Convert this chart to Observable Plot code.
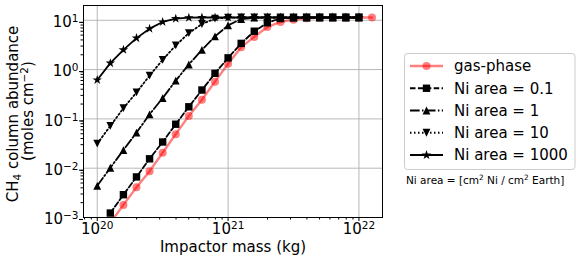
<!DOCTYPE html>
<html><head><meta charset="utf-8">
<script src="https://cdn.jsdelivr.net/npm/d3@7"></script>
<script src="https://cdn.jsdelivr.net/npm/@observablehq/plot@0.6"></script>
<style>body{margin:0;background:#fff;} #chart{width:581px;height:261px;}</style>
</head><body><div id="chart"></div>
<script>
// Impactor masses (kg)
const masses = [1e20, 1.259e20, 1.585e20, 1.995e20, 2.512e20, 3.162e20, 3.981e20, 5.012e20, 6.310e20, 7.943e20,
  1e21, 1.259e21, 1.585e21, 1.995e21, 2.512e21, 3.162e21, 3.981e21, 5.012e21, 6.310e21, 7.943e21, 1e22, 1.259e22];
// CH4 column abundance (moles cm^-2)
const gasPhase = [null, 7.8e-4, 1.8e-3, 4.1e-3, 8.7e-3, 0.0206, 0.049, 0.115, 0.244, 0.57, 1.31, 2.85, 4.6, 7.3, 9.25, 10.3, 11.0, 11.3, 11.4, 11.4, 11.4, 11.4];
const niArea01 = [null, 1.23e-3, 2.9e-3, 6.65e-3, 0.0155, 0.034, 0.078, 0.176, 0.385, 0.84, 1.73, 3.4, 6.0, 8.9, 10.9, 11.3, 11.4, 11.4, 11.4, 11.4, 11.4, null];
const niArea1 = [4.4e-3, 0.0102, 0.0233, 0.0526, 0.124, 0.264, 0.597, 1.27, 2.52, 4.7, 7.9, 10.6, 11.3, 11.4, 11.4, 11.4, 11.4, 11.4, 11.4, 11.4, 11.4, null];
const niArea10 = [0.0314, 0.072, 0.165, 0.344, 0.755, 1.58, 3.09, 5.5, 8.4, 10.8, 11.3, 11.4, 11.4, 11.4, 11.4, 11.4, 11.4, 11.4, 11.4, 11.4, 11.4, null];
const niArea1000 = [0.617, 1.35, 2.52, 4.35, 6.76, 9.25, 10.8, 11.3, 11.4, 11.4, 11.4, 11.4, 11.4, 11.4, 11.4, 11.4, 11.4, 11.4, 11.4, 11.4, 11.4, null];
const seriesNames = ["gas-phase", "Ni area = 0.1", "Ni area = 1", "Ni area = 10", "Ni area = 1000"];
const xMajorTicks = [1e20, 1e21, 1e22];
const yMajorTicks = [1e-3, 1e-2, 1e-1, 1e0, 1e1];
const xLabel = "Impactor mass (kg)";

// custom marker symbols (half-size = r)
const R = s => Math.sqrt(s / Math.PI);
const symSquare = {draw(c, s){ const r = R(s); c.rect(-r, -r, 2*r, 2*r); }};
const symTriUp = {draw(c, s){ const r = R(s); c.moveTo(0, -r); c.lineTo(-r, r); c.lineTo(r, r); c.closePath(); }};
const symTriDown = {draw(c, s){ const r = R(s); c.moveTo(0, r); c.lineTo(-r, -r); c.lineTo(r, -r); c.closePath(); }};
const symStar = {draw(c, s){ const r = R(s), ri = r * 0.381966;
  for (let k = 0; k < 10; k++) { const a = -Math.PI/2 + k*Math.PI/5, rr = k % 2 ? ri : r;
    const x = rr*Math.cos(a), y = rr*Math.sin(a); k ? c.lineTo(x, y) : c.moveTo(x, y); } c.closePath(); }};
const symCircle = {draw(c, s){ const r = R(s); c.moveTo(r, 0); c.arc(0, 0, r, 0, 2*Math.PI); }};

const styles = [
  {values: gasPhase, stroke: "red", opacity: 0.5, width: 2.4, dash: null, symbol: symCircle, r: 4},
  {values: niArea01, stroke: "black", opacity: 1, width: 1.8, dash: "5.5,2.4", symbol: symSquare, r: 3.7},
  {values: niArea1, stroke: "black", opacity: 1, width: 1.8, dash: "9.6,2.4,1.5,2.4", symbol: symTriUp, r: 3.9},
  {values: niArea10, stroke: "black", opacity: 1, width: 1.8, dash: "1.5,2.5", symbol: symTriDown, r: 3.9},
  {values: niArea1000, stroke: "black", opacity: 1, width: 1.8, dash: null, symbol: symStar, r: 5}
];

const xDomain = [Math.pow(10, 19.895), Math.pow(10, 22.18)];
const yDomain = [1e-3, Math.pow(10, 1.3)];
const inX = v => v >= xDomain[0] && v <= xDomain[1];
const inY = v => v >= yDomain[0] && v <= yDomain[1];
const xMinor = [], yMinor = [];
for (const d of [1e19, 1e20, 1e21, 1e22]) for (let k = 2; k <= 9; k++) if (inX(k*d)) xMinor.push(k*d);
for (const d of [1e-3, 1e-2, 1e-1, 1e0, 1e1]) for (let k = 2; k <= 9; k++) if (inY(k*d)) yMinor.push(k*d);

const FS = 15;
const marks = [
  Plot.gridX(xMajorTicks, {stroke: "#b0b0b0", strokeOpacity: 1, strokeWidth: 0.9}),
  Plot.gridY(yMajorTicks, {stroke: "#b0b0b0", strokeOpacity: 1, strokeWidth: 0.9})
];
styles.forEach((st, si) => {
  const rows = masses.map((m, i) => ({mass: m, value: st.values[i], series: seriesNames[si]})).filter(d => d.value != null);
  marks.push(Plot.line(rows, {x: "mass", y: "value", stroke: st.stroke, strokeOpacity: st.opacity, strokeWidth: st.width,
    strokeDasharray: st.dash, clip: true}));
  marks.push(Plot.dot(rows, {x: "mass", y: "value", symbol: st.symbol, r: st.r, fill: st.stroke, fillOpacity: st.opacity,
    stroke: "none", clip: true}));
});
const fmt = d => "10|" + Math.round(Math.log10(d));
marks.push(
  Plot.frame({stroke: "black", strokeWidth: 1}),
  Plot.axisX(xMinor, {tickSize: 2.5, tickFormat: () => "", label: null}),
  Plot.axisX(xMajorTicks, {tickSize: 4, tickPadding: 2, tickFormat: fmt, label: null, fontSize: FS}),
  Plot.axisY(yMinor, {tickSize: 2.5, tickFormat: () => "", label: null}),
  Plot.axisY(yMajorTicks, {tickSize: 4, tickPadding: 1, dy: 2, tickFormat: fmt, label: null, fontSize: FS})
);

const svg = Plot.plot({
  width: 581, height: 261,
  marginLeft: 83, marginRight: 199, marginTop: 5, marginBottom: 44,
  x: {type: "log", domain: xDomain},
  y: {type: "log", domain: yDomain},
  style: {fontFamily: "DejaVu Sans", fontSize: FS + "px", background: "white", color: "black"},
  marks
});
document.getElementById("chart").appendChild(svg);

const S = d3.select(svg);
// superscripts on tick labels
S.selectAll("text").each(function(){
  const t = this.textContent;
  if (!t.includes("|")) return;
  const [b, e] = t.split("|");
  const sel = d3.select(this); sel.text(null).attr("font-size", FS);
  sel.append("tspan").text(b);
  sel.append("tspan").attr("dy", "-5").attr("font-size", "10.5px").text(e.replace("-", "\u2212"));
});

const F = "DejaVu Sans";
// x label
S.append("text").attr("x", 233).attr("y", 251.5).attr("text-anchor", "middle")
  .attr("font-family", F).attr("font-size", FS).attr("fill", "black").text(xLabel);
// y label (two lines)
const yl1 = S.append("text").attr("transform", "translate(17.5,114) rotate(-90)").attr("text-anchor", "middle")
  .attr("font-family", F).attr("font-size", FS).attr("fill", "black");
yl1.append("tspan").text("CH");
yl1.append("tspan").attr("font-size", "10.5px").attr("dy", 3).text("4");
yl1.append("tspan").attr("dy", -3).text(" column abundance");
const yl2 = S.append("text").attr("transform", "translate(32.5,111) rotate(-90)").attr("text-anchor", "middle")
  .attr("font-family", F).attr("font-size", FS).attr("fill", "black");
yl2.append("tspan").text("(moles cm");
yl2.append("tspan").attr("font-size", "10.5px").attr("dy", -5).text("\u22122");
yl2.append("tspan").attr("dy", 5).text(")");

// legend
const L = S.append("g");
L.append("rect").attr("x", 404.5).attr("y", 53.5).attr("width", 170.5).attr("height", 116).attr("rx", 3)
  .attr("fill", "white").attr("stroke", "#cccccc").attr("stroke-width", 1);
styles.forEach((st, i) => {
  const cy = 66 + i * 22.25;
  L.append("line").attr("x1", 410).attr("x2", 443).attr("y1", cy).attr("y2", cy)
    .attr("stroke", st.stroke).attr("stroke-opacity", st.opacity).attr("stroke-width", st.width)
    .attr("stroke-dasharray", st.dash);
  L.append("path").attr("transform", `translate(426.5,${cy})`)
    .attr("d", d3.symbol(st.symbol, Math.PI * st.r * st.r)())
    .attr("fill", st.stroke).attr("fill-opacity", st.opacity);
  L.append("text").attr("x", 454).attr("y", cy).attr("dy", "0.36em").attr("text-anchor", "start")
    .attr("font-family", F).attr("font-size", FS).attr("fill", "black").text(seriesNames[i]);
});
const cap = S.append("text").attr("x", 406).attr("y", 184).attr("text-anchor", "start")
  .attr("font-family", F).attr("font-size", 10.5).attr("fill", "black");
cap.append("tspan").text("Ni area = [cm");
cap.append("tspan").attr("font-size", "7.3px").attr("dy", -4).text("2");
cap.append("tspan").attr("dy", 4).text(" Ni / cm");
cap.append("tspan").attr("font-size", "7.3px").attr("dy", -4).text("2");
cap.append("tspan").attr("dy", 4).text(" Earth]");
</script>
</body></html>
